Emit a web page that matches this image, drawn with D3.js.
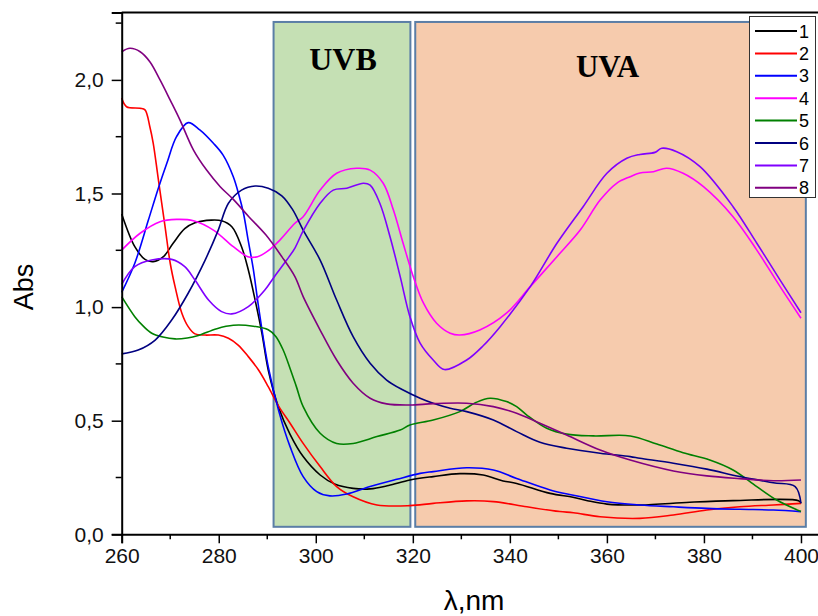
<!DOCTYPE html>
<html>
<head>
<meta charset="utf-8">
<script src="https://cdn.jsdelivr.net/npm/d3@7"></script>
<style>
  body { margin: 0; background: #fff; }
  text { font-family: Arial, "Liberation Sans", sans-serif; }
</style>
</head>
<body>
<div id="chart"></div>
<script>
// spectra, [wavelength nm, absorbance]
var s1 = [[260,1.41],[262.7,1.266],[264.8,1.21],[266.5,1.2],[268.6,1.222],[270.6,1.281],[273,1.345],[275.1,1.371],[278.5,1.383],[280.6,1.38],[282.7,1.354],[284.7,1.266],[286.1,1.163],[287.5,1.031],[288.9,0.885],[290.2,0.723],[292.3,0.56],[294.7,0.44],[297.4,0.342],[300.9,0.261],[304,0.22],[307.7,0.202],[311.2,0.2],[315,0.215],[319.4,0.239],[324.2,0.254],[329.7,0.267],[334.5,0.261],[338.6,0.235],[341.4,0.224],[348.3,0.18],[353,0.163],[356,0.148],[360,0.133],[366.8,0.129],[377.1,0.141],[386,0.148],[399.5,0.148],[400,0.136]];
var s2 = [[260,1.92],[261,1.882],[263.8,1.875],[264.8,1.868],[265.8,1.794],[266.5,1.721],[267.5,1.57],[268.9,1.36],[270,1.193],[271,1.09],[272.4,0.973],[273.7,0.914],[275.1,0.882],[277.2,0.877],[279.9,0.877],[282,0.863],[284,0.833],[286.1,0.782],[288.2,0.723],[290.2,0.65],[292.4,0.562],[294.7,0.489],[297.4,0.4],[300.9,0.298],[304.3,0.21],[307.7,0.165],[312.6,0.129],[319.4,0.126],[324.2,0.136],[331.1,0.147],[336.6,0.144],[343.5,0.121],[350.3,0.1],[353.1,0.095],[358.6,0.077],[366.8,0.07],[373.7,0.085],[380.6,0.107],[387.4,0.121],[394.3,0.129],[400,0.136]];
var s3 = [[260,1.065],[262.7,1.193],[265.5,1.383],[267.5,1.52],[269.3,1.633],[271.3,1.75],[273.7,1.812],[276.1,1.78],[278.9,1.721],[280.9,1.669],[283,1.574],[284.2,1.49],[285.1,1.413],[286.1,1.29],[287.1,1.17],[288.2,1.002],[290.2,0.738],[292.4,0.54],[294.7,0.386],[297.4,0.254],[300.2,0.188],[302.9,0.169],[306.4,0.177],[311.2,0.21],[316.7,0.242],[321.5,0.268],[324.2,0.276],[331.1,0.293],[336.6,0.283],[341.4,0.246],[348.3,0.195],[353.1,0.172],[360,0.143],[366.8,0.129],[373.7,0.121],[380.6,0.114],[387.4,0.11],[394.3,0.107],[400,0.1]];
var s4 = [[260,1.251],[263.8,1.325],[267.9,1.376],[271.3,1.386],[274.8,1.38],[278.9,1.339],[283,1.266],[286,1.222],[288,1.222],[290,1.245],[292.6,1.295],[295.7,1.369],[297.4,1.398],[300.9,1.515],[304.3,1.589],[308.4,1.611],[311.2,1.603],[313.9,1.545],[316,1.427],[318,1.281],[320.1,1.134],[322.2,1.017],[324.9,0.929],[327.7,0.885],[329.7,0.877],[333.8,0.899],[339.3,0.973],[344.2,1.09],[349.7,1.222],[354.5,1.339],[358.6,1.471],[362,1.545],[364.8,1.574],[366.8,1.59],[369.6,1.596],[372.3,1.611],[375.7,1.589],[379.9,1.53],[386,1.398],[390.9,1.251],[395.7,1.09],[400,0.951]];
var s5 = [[260,1.046],[262.7,0.958],[264.5,0.915],[266.2,0.885],[268.5,0.868],[271,0.86],[273.5,0.864],[275.8,0.875],[279.6,0.905],[283,0.92],[287.1,0.916],[290.2,0.9],[291.8,0.87],[293.3,0.81],[294.7,0.73],[296,0.65],[297.4,0.562],[300.9,0.445],[304.3,0.4],[307.7,0.4],[312.6,0.43],[317.4,0.459],[319.4,0.481],[324.2,0.503],[329.7,0.54],[333,0.58],[335.9,0.599],[339.3,0.584],[341.4,0.562],[343.5,0.525],[347.6,0.467],[351.7,0.441],[357.2,0.433],[364.8,0.433],[370.3,0.397],[375.7,0.359],[381.2,0.327],[386,0.283],[390.9,0.21],[395,0.151],[400,0.1]];
var s6 = [[260,0.794],[263.4,0.811],[266.9,0.855],[270.3,0.943],[273.7,1.061],[277.2,1.207],[279.9,1.339],[282,1.457],[284.7,1.515],[287.5,1.533],[290.2,1.523],[293,1.49],[295.2,1.43],[297.4,1.339],[300.9,1.207],[304.3,1.031],[307.7,0.87],[311.2,0.753],[314.6,0.679],[318,0.635],[321.5,0.599],[324.2,0.577],[327.7,0.555],[331.1,0.54],[336.6,0.503],[341.4,0.452],[346.2,0.405],[351.7,0.379],[358.6,0.357],[364.8,0.342],[366.8,0.335],[373.7,0.313],[380.6,0.287],[387.4,0.254],[394.3,0.227],[398.8,0.21],[400,0.136]];
var s7 = [[260,1.1],[262.7,1.178],[266.2,1.207],[270.3,1.21],[273,1.178],[275.1,1.119],[277.9,1.031],[280.6,0.98],[282.7,0.97],[286.1,1.002],[289.5,1.075],[291.5,1.135],[294,1.207],[295.7,1.26],[297.4,1.335],[300.9,1.457],[303.6,1.515],[306.4,1.523],[309.8,1.545],[311.2,1.537],[313.2,1.457],[315.3,1.31],[317.4,1.134],[319.4,0.958],[321.5,0.841],[324.2,0.767],[326.5,0.725],[331.1,0.767],[334.5,0.83],[338,0.914],[344.2,1.09],[349.7,1.281],[355.1,1.442],[360,1.589],[364.1,1.655],[366.8,1.672],[369.9,1.681],[371.3,1.699],[374.4,1.684],[379.2,1.618],[386,1.442],[390.9,1.281],[395.7,1.119],[400,0.975]];
var s8 = [[260,2.124],[261.7,2.139],[263.8,2.124],[265.8,2.08],[267.9,2.0],[270,1.911],[272,1.824],[274.8,1.691],[277.5,1.603],[280.3,1.53],[283,1.474],[286.2,1.398],[289.7,1.318],[293,1.222],[295.7,1.134],[297.4,1.046],[300.9,0.899],[304.3,0.767],[307.7,0.665],[311.2,0.599],[314.6,0.574],[319.4,0.569],[324.2,0.575],[331.1,0.577],[336.6,0.562],[341.4,0.533],[346.2,0.489],[351.7,0.437],[358.6,0.371],[364.8,0.327],[373.7,0.279],[380.6,0.257],[387.4,0.245],[394.3,0.236],[400,0.239]];

var seriesNames = ["1", "2", "3", "4", "5", "6", "7", "8"];
var seriesData = [s1, s2, s3, s4, s5, s6, s7, s8];
var seriesColors = ["#000000", "#ff0000", "#0000ff", "#ff00ff", "#008000", "#000080", "#8000ff", "#800080"];

// UV bands (nm, absorbance extents)
var bandNames = ["UVB", "UVA"];
var bandStart = [291.3, 320.5];
var bandEnd = [319.5, 401];
var bandTop = 2.255, bandBottom = 0.033;
var bandColors = ["#c5e0b4", "#f6cbad"];

var xTicks = [260, 280, 300, 320, 340, 360, 380, 400];
var xMinor = [270, 290, 310, 330, 350, 370, 390];
var yTicks = [0, 0.5, 1.0, 1.5, 2.0];
var yMinor = [0.25, 0.75, 1.25, 1.75, 2.25];

var width = 818, height = 616;
var plotLeft = 121.7, plotRight = 818.5, plotTop = 12.5, plotBottom = 534.3;

var svg = d3.select("#chart").append("svg")
  .attr("width", width)
  .attr("height", height);

var x = d3.scaleLinear().domain([260, 260 + (plotRight - plotLeft) / 4.852]).range([plotLeft, plotRight]);
var y = d3.scaleLinear().domain([0, (plotBottom - plotTop) / 227.2]).range([plotBottom, plotTop]);

// bands
var bands = svg.append("g");
bandNames.forEach(function(name, i) {
  bands.append("rect")
    .attr("x", x(bandStart[i]))
    .attr("y", y(bandTop))
    .attr("width", x(bandEnd[i]) - x(bandStart[i]))
    .attr("height", y(bandBottom) - y(bandTop))
    .attr("fill", bandColors[i])
    .attr("stroke", "#5b7ea6")
    .attr("stroke-width", 2);
  bands.append("text")
    .attr("x", (x(bandStart[i]) + x(bandEnd[i])) / 2 + (i == 0 ? 1 : -3))
    .attr("y", i == 0 ? 70 : 77)
    .attr("text-anchor", "middle")
    .style("font-family", "'Liberation Serif', 'Times New Roman', serif")
    .style("font-weight", "bold")
    .style("font-size", i == 0 ? "32px" : "31px")
    .text(name);
});

// curves
var line = d3.line()
  .x(function(d) { return x(d[0]); })
  .y(function(d) { return y(d[1]); })
  .curve(d3.curveCatmullRom.alpha(0.5));

svg.append("g")
  .selectAll("path")
  .data(seriesData)
  .enter().append("path")
  .attr("d", line)
  .attr("fill", "none")
  .attr("stroke", function(d, i) { return seriesColors[i]; })
  .attr("stroke-width", 1.6);

// axes
var fmt = function(d) { return d3.format(".1f")(d).replace(".", ","); };

var xAxis = svg.append("g")
  .attr("transform", "translate(0," + plotBottom + ")")
  .call(d3.axisBottom(x).tickValues(xTicks).tickSize(9).tickPadding(5).tickFormat(d3.format("d")));
xAxis.append("g").selectAll("line").data(xMinor).enter().append("line")
  .attr("x1", x).attr("x2", x).attr("y1", 0).attr("y2", 5);

var yAxis = svg.append("g")
  .attr("transform", "translate(" + plotLeft + ",0)")
  .call(d3.axisLeft(y).tickValues(yTicks).tickSize(10).tickPadding(8).tickFormat(fmt));
yAxis.append("g").selectAll("line").data(yMinor).enter().append("line")
  .attr("y1", y).attr("y2", y).attr("x1", 0).attr("x2", -6);

[xAxis, yAxis].forEach(function(a) {
  a.attr("font-size", null).attr("font-family", null);
  a.select(".domain").attr("stroke", "#000").attr("stroke-width", 2);
  a.selectAll("line").attr("stroke", "#000").attr("stroke-width", 1.5);
  a.selectAll("text").style("font-size", "21px").attr("fill", "#111");
});

// top frame line
svg.append("line")
  .attr("x1", plotLeft).attr("x2", plotRight)
  .attr("y1", plotTop).attr("y2", plotTop)
  .attr("stroke", "#000").attr("stroke-width", 2);

// axis titles
svg.append("text")
  .attr("transform", "translate(33,287) rotate(-90)")
  .attr("text-anchor", "middle")
  .style("font-size", "27px")
  .text("Abs");

svg.append("text")
  .attr("x", 474)
  .attr("y", 610)
  .attr("text-anchor", "middle")
  .style("font-size", "28px")
  .text("λ,nm");

// legend
var legend = svg.append("g");
legend.append("rect")
  .attr("x", 749.5).attr("y", 16.5)
  .attr("width", 66).attr("height", 181)
  .attr("fill", "#fff")
  .attr("stroke", "#333")
  .attr("stroke-width", 1);

seriesNames.forEach(function(name, i) {
  var ly = 31 + i * 22.4;
  legend.append("line")
    .attr("x1", 755).attr("x2", 797)
    .attr("y1", ly).attr("y2", ly)
    .attr("stroke", seriesColors[i])
    .attr("stroke-width", 2);
  legend.append("text")
    .attr("x", 799).attr("y", ly + 6.5)
    .style("font-size", "18px")
    .text(name);
});
</script>
</body>
</html>
